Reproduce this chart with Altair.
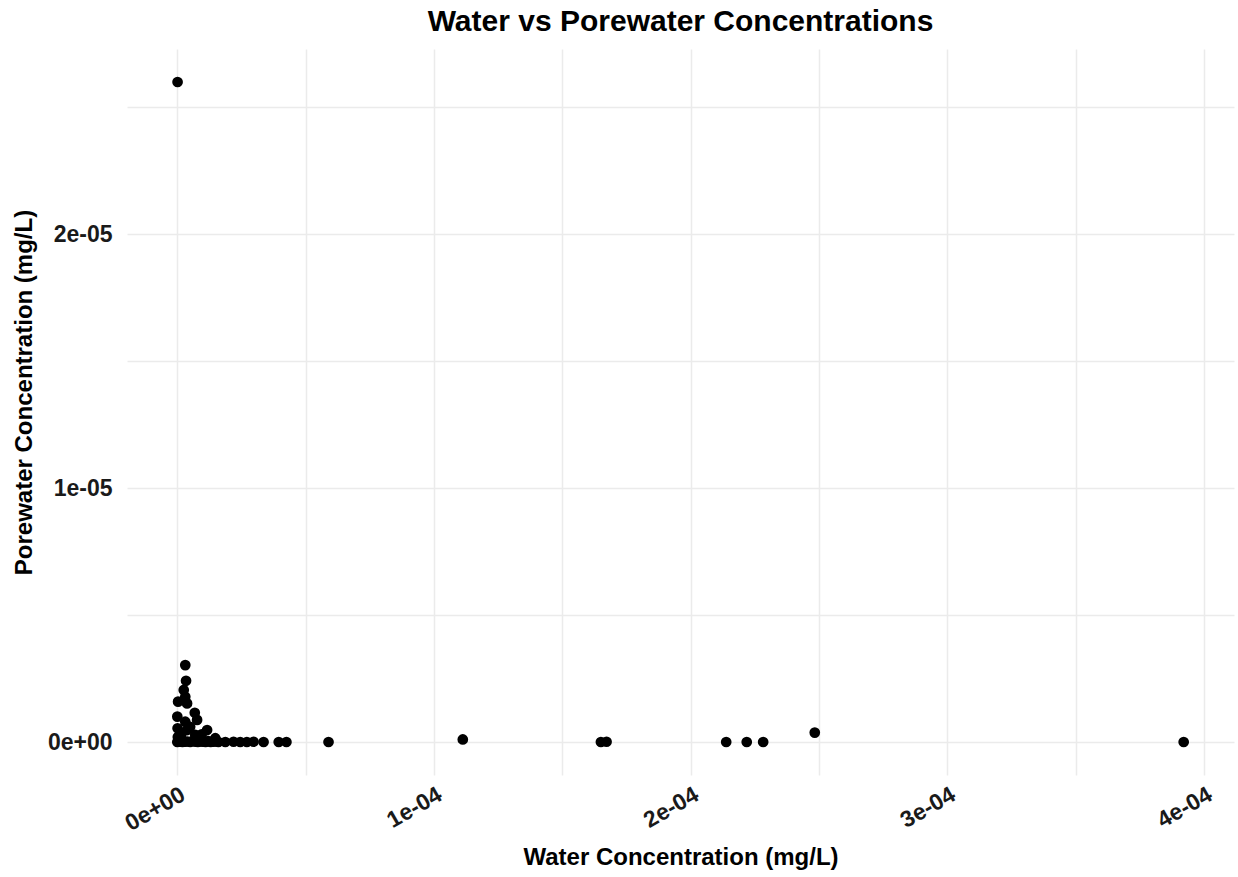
import altair as alt
import pandas as pd

# values in units of mg/L
water = [0.1e-6,
         3.1e-6, 3.4e-6, 2.5e-6, 3.1e-6, 0.3e-6, 3.8e-6, 6.8e-6, 0.0, 3.1e-6, 7.7e-6,
         0.1e-6, 11.6e-6, 3.8e-6, 0.2e-6, 7.0e-6, 14.8e-6, 5.0e-6, 1.5e-6, 9.5e-6,
         0.0, 0.5e-6, 1.0e-6, 1.5e-6, 2.0e-6, 2.5e-6, 3.0e-6, 4.0e-6, 5.0e-6, 6.0e-6,
         7.0e-6, 8.0e-6, 9.0e-6, 10.0e-6, 11.0e-6, 12.0e-6, 13.0e-6, 14.0e-6, 15.0e-6,
         16.0e-6, 18.7e-6, 21.9e-6, 24.5e-6, 27.1e-6, 29.7e-6, 33.6e-6, 39.5e-6, 42.5e-6,
         58.9e-6, 111.2e-6, 165.0e-6, 167.2e-6, 213.8e-6, 221.8e-6, 228.2e-6, 248.3e-6,
         392.0e-6]
porewater = [26.0e-6,
             3.03e-6, 2.41e-6, 2.05e-6, 1.78e-6, 1.59e-6, 1.52e-6, 1.15e-6, 1.0e-6, 0.8e-6, 0.87e-6,
             0.54e-6, 0.47e-6, 0.47e-6, 0.2e-6, 0.28e-6, 0.15e-6, 0.6e-6, 0.3e-6, 0.3e-6,
             0.0, 0.02e-6, 0.01e-6, 0.05e-6, 0.0, 0.03e-6, 0.01e-6, 0.02e-6, 0.0, 0.04e-6,
             0.01e-6, 0.0, 0.02e-6, 0.01e-6, 0.0, 0.03e-6, 0.0, 0.01e-6, 0.02e-6,
             0.0, 0.0, 0.01e-6, 0.0, 0.0, 0.01e-6, 0.0, 0.0, 0.0,
             0.0, 0.1e-6, 0.0, 0.01e-6, 0.0, 0.0, 0.0, 0.37e-6,
             0.0]

x_ticks = [0, 0.5e-4, 1e-4, 1.5e-4, 2e-4, 2.5e-4, 3e-4, 3.5e-4, 4e-4]
x_labels = ["0e+00", "", "1e-04", "", "2e-04", "", "3e-04", "", "4e-04"]
y_ticks = [0, 0.5e-5, 1e-5, 1.5e-5, 2e-5, 2.5e-5]
y_labels = ["0e+00", "", "1e-05", "", "2e-05", ""]

df = pd.DataFrame({"water": water, "porewater": porewater})


def label_expr(ticks, labels, scale):
    expr = "''"
    for t, l in reversed(list(zip(ticks, labels))):
        expr = f"round(datum.value*{scale})=={round(t*scale)} ? '{l}' : ({expr})"
    return expr


font = "Liberation Sans"

chart = alt.Chart(df).mark_circle(size=115, color="black", opacity=1).encode(
    x=alt.X("water:Q", title="Water Concentration (mg/L)",
            scale=alt.Scale(domain=[-19.6e-6, 411.6e-6], nice=False, zero=False),
            axis=alt.Axis(values=x_ticks, labelExpr=label_expr(x_ticks, x_labels, 2e4),
                          labelAngle=-30, labelAlign="right", labelBaseline="top",
                          labelPadding=8, titlePadding=10, labelFlush=False)),
    y=alt.Y("porewater:Q", title="Porewater Concentration (mg/L)",
            scale=alt.Scale(domain=[-1.3e-6, 27.3e-6], nice=False, zero=False),
            axis=alt.Axis(values=y_ticks, labelExpr=label_expr(y_ticks, y_labels, 2e5),
                          labelPadding=15, titlePadding=11, titleY=343, labelFlush=False)),
).properties(
    width=1107, height=726,
    title=alt.TitleParams("Water vs Porewater Concentrations", font=font, fontSize=30,
                          fontWeight="bold", color="black", anchor="middle", offset=12),
    autosize="none",
    padding={"left": 127, "top": 49, "right": 4, "bottom": 102},
).configure_view(stroke=None).configure_axis(
    domain=False, ticks=False, gridColor="#ebebeb", gridWidth=1.5,
    labelFont=font, labelFontSize=23, labelFontWeight="bold", labelColor="#1a1a1a",
    titleFont=font, titleFontSize=24, titleFontWeight="bold", titleColor="black",
)

chart.save("out.html", embed_options={"renderer": "svg", "actions": False})
